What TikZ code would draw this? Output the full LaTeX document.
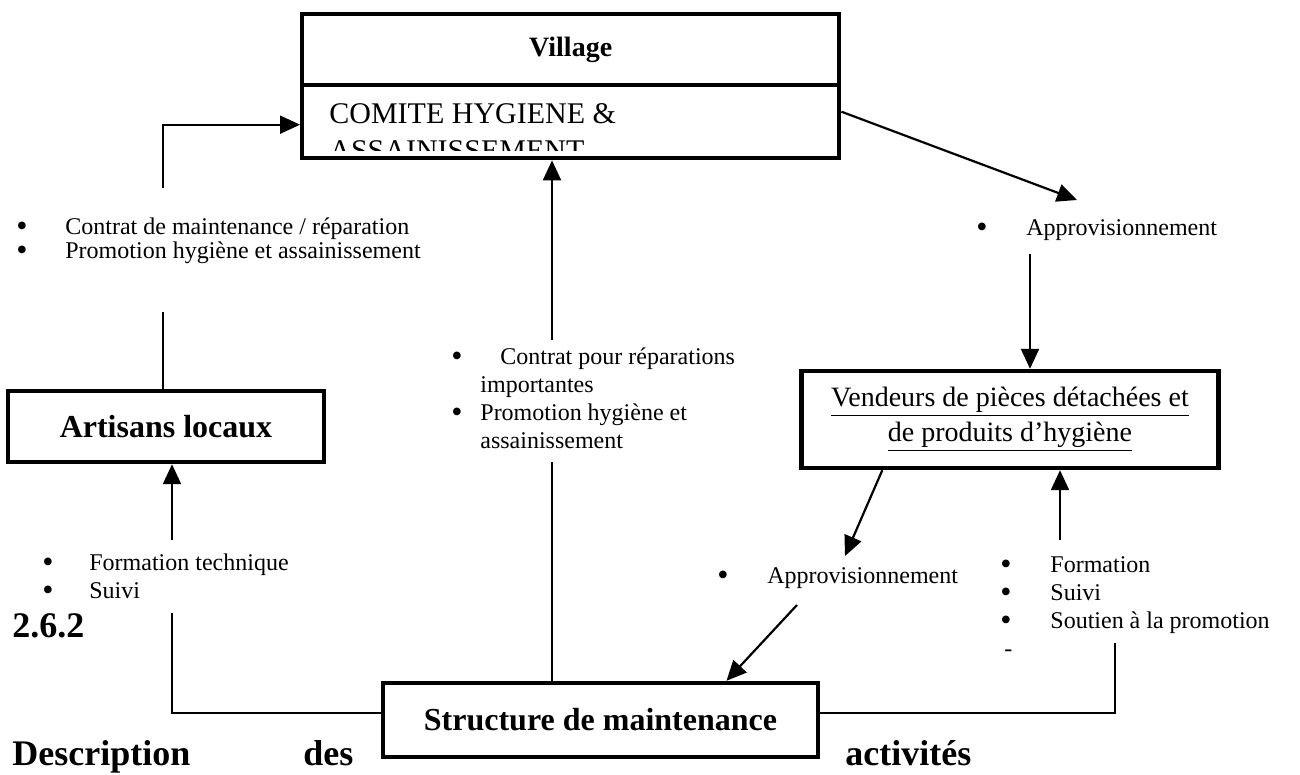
\documentclass[tikz,border=0pt]{standalone}
\usepackage{fontspec}
\setmainfont{Liberation Serif}
\usetikzlibrary{arrows.meta}
\newcommand{\puce}[1]{\makebox[#1][l]{\raisebox{-1pt}{\fontsize{16}{16}\selectfont\textbullet}}}
\begin{document}
\begin{tikzpicture}[x=0.5pt,y=-0.5pt,
  every node/.style={font=\fontsize{12}{14}\selectfont},
  boite/.style={draw,line width=2.2pt,inner sep=0pt},
  trait/.style={line width=1.1pt},
  fleche/.style={line width=1.1pt,-{Triangle[length=10pt,width=9pt]}},
  liste/.style={anchor=base west,align=left,inner sep=0pt},
  titre/.style={anchor=base west,inner sep=0pt,font=\fontsize{18}{20}\selectfont\bfseries}]
\useasboundingbox (0,0) rectangle (1300,775);
\node[boite,minimum width=268.5pt,minimum height=35.5pt,anchor=north west,font=\fontsize{14}{16}\selectfont\bfseries] (village) at (300,12) {Village};
\node[boite,minimum width=268.5pt,minimum height=36.5pt,anchor=north] (comite) at ([yshift=2.2pt]village.south) {};
\begin{scope}
\clip ([shift={(1.1pt,-1.1pt)}]comite.north west) rectangle ([yshift=5pt]comite.south east);
\node[anchor=base west,align=left,inner sep=0pt,font=\fontsize{15}{18.5}\selectfont] (comitetxt) at (329,161) {COMITE HYGIENE \&\\ASSAINISSEMENT};
\end{scope}
\node[boite,minimum width=158pt,minimum height=35.5pt,font=\fontsize{16}{18}\selectfont\bfseries] (artisans) at (166,426.5) {Artisans locaux};
\node[boite,minimum width=208.5pt,minimum height=48.5pt,align=center,font=\fontsize{14}{17.5}\selectfont] (vendeurs) at (1010,419.5) {\underline{Vendeurs de pièces détachées et}\\\underline{de produits d’hygiène}};
\node[boite,minimum width=217.5pt,minimum height=37pt,font=\fontsize{16}{18}\selectfont\bfseries] (structure) at (600.5,720) {Structure de maintenance};
\node[liste,font=\fontsize{12}{12}\selectfont] (contrat) at (16,258) {\puce{24.5pt}Contrat de maintenance / réparation\\\puce{24.5pt}Promotion hygiène et assainissement};
\node[liste] (appro1) at (976,235) {\puce{25pt}Approvisionnement};
\node[liste] (reparations) at (451,448) {\puce{24.5pt}Contrat pour réparations\\\hspace*{14.5pt}importantes\\\puce{14.5pt}Promotion hygiène et\\\hspace*{14.5pt}assainissement};
\node[liste] (appro2) at (717,583) {\puce{25pt}Approvisionnement};
\node[liste] (formtech) at (42,598) {\puce{23.5pt}Formation technique\\\puce{23.5pt}Suivi};
\node[liste] (formsuivi) at (1000,656) {\puce{25pt}Formation\\\puce{25pt}Suivi\\\puce{25pt}Soutien à la promotion\\\hspace*{2pt}-};
\node[titre] (num) at (12,637) {2.6.2};
\node[titre] (descr) at (12,765) {Description};
\node[titre] (des) at (303,765) {des};
\node[titre] (activ) at (845,765) {activités};
\coordinate (a1) at (163,188);
\coordinate (a2) at (163,312);
\draw[trait] (artisans.north -| a2) -- (a2);
\draw[fleche] (a1) |- ([yshift=-1.5pt]comite.west);
\coordinate (b1) at (172,613);
\coordinate (b2) at (172,540);
\draw[trait] ([yshift=3.5pt]structure.west) -| (b1);
\draw[fleche] (b2) -- (artisans.south -| b2);
\coordinate (c1) at (552,462);
\coordinate (c2) at (552,340);
\draw[trait] (structure.north -| c1) -- (c1);
\draw[fleche] (c2) -- (comite.south -| c2);
\coordinate (d1) at (1077,200);
\coordinate (d2) at (1030,254);
\draw[fleche] ([yshift=5pt]comite.east) -- (d1);
\draw[fleche] (d2) -- (vendeurs.north -| d2);
\coordinate (f1) at (845,556);
\draw[fleche] ([xshift=41.5pt]vendeurs.south west) -- (f1);
\coordinate (g1) at (797,605);
\draw[fleche] (g1) -- ([xshift=63pt]structure.north);
\coordinate (e1) at (1115,643);
\coordinate (e2) at (1060,540);
\draw[trait] ([yshift=3.5pt]structure.east) -| (e1);
\draw[fleche] (e2) -- (vendeurs.south -| e2);
\end{tikzpicture}
\end{document}
